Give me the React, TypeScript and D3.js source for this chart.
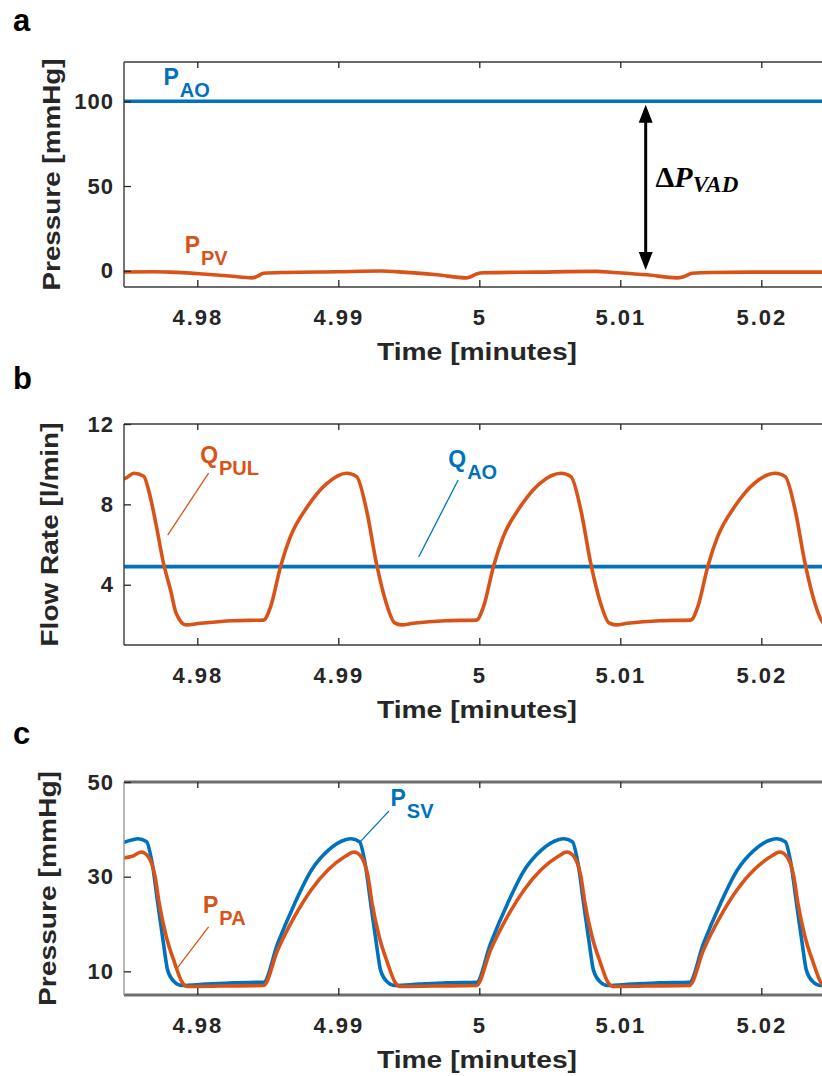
import React from 'react';
import * as d3 from 'd3';

// shared time axis
const timeTicks = [4.98, 4.99, 5.0, 5.01, 5.02];
const timeTickLabels = ['4.98', '4.99', '5', '5.01', '5.02'];

// panel a : pressures [mmHg]
const pAO = [[4.974, 100], [5.026, 100]];
const pPV = [
  [4.974, -0.8], [4.9769, -0.6], [4.9781, -0.8], [4.9804, -1.9], [4.9823, -3.1], [4.9839, -4.2],
  [4.9842, -3.5], [4.9847, -1.5], [4.9863, -1.0], [4.9899, -0.6], [4.993, -0.2], [4.9946, -0.8],
  [4.997, -2.4], [4.9991, -4.2], [4.9993, -3.8], [4.9998, -1.9], [5.0003, -1.2], [5.0041, -0.8],
  [5.0083, -0.4], [5.0095, -1.0], [5.0119, -2.4], [5.014, -4.2], [5.0145, -3.5], [5.0151, -1.5],
  [5.0164, -1.0], [5.0206, -0.8], [5.0258, -0.8],
];
const pressureATicks = [0, 50, 100];

// panel b : flow rates [l/min]
const qAO = [[4.974, 4.9], [5.026, 4.9]];
const qPUL = [
  [4.974, 9.2], [4.9749, 9.3], [4.9755, 9.55], [4.9762, 9.4], [4.9766, 8.55], [4.9771, 6.9],
  [4.9776, 5.07], [4.9781, 3.74], [4.9785, 2.58], [4.9792, 2.0], [4.9802, 2.08], [4.9825, 2.21],
  [4.9847, 2.24], [4.9852, 2.91], [4.9859, 4.9], [4.9866, 6.39], [4.9878, 7.88], [4.9892, 9.05],
  [4.9906, 9.55], [4.9913, 9.38], [4.992, 7.72], [4.9927, 5.07], [4.9934, 3.08], [4.994, 2.1],
  [4.9945, 2.0], [4.9953, 2.08], [4.9976, 2.21], [4.9998, 2.24], [5.0003, 2.91], [5.001, 4.9],
  [5.0017, 6.39], [5.0029, 7.88], [5.0043, 9.05], [5.0058, 9.55], [5.0065, 9.38], [5.0072, 7.72],
  [5.0079, 5.07], [5.0086, 3.08], [5.0092, 2.1], [5.0097, 2.0], [5.0105, 2.08], [5.0128, 2.21],
  [5.015, 2.24], [5.0155, 2.91], [5.0162, 4.9], [5.0169, 6.39], [5.0181, 7.88], [5.0195, 9.05],
  [5.021, 9.55], [5.0217, 9.38], [5.0224, 7.72], [5.0231, 5.07], [5.0238, 3.08], [5.0244, 2.1],
  [5.0249, 2.0], [5.0257, 2.08],
];
const flowTicks = [4, 8, 12];

// panel c : pressures [mmHg]
const pSV = [
  [4.9742, 36.5], [4.9754, 37.8], [4.9758, 38.0], [4.9764, 37.4], [4.9768, 32.8], [4.9772, 24.3],
  [4.9776, 15.9], [4.9779, 10.2], [4.9784, 7.7], [4.9789, 7.0], [4.9806, 7.3], [4.9826, 7.6],
  [4.9847, 7.7], [4.9857, 15.9], [4.9869, 24.3], [4.9881, 31.4], [4.9893, 35.6], [4.9905, 37.8],
  [4.9909, 38.0], [4.9915, 37.4], [4.9919, 32.8], [4.9923, 24.3], [4.9927, 15.9], [4.993, 10.2],
  [4.9935, 7.7], [4.994, 7.0], [4.9957, 7.3], [4.9977, 7.6],
  [4.9998, 7.7], [5.0008, 15.9], [5.002, 24.3], [5.0032, 31.4], [5.0044, 35.6], [5.0056, 37.8],
  [5.006, 38.0], [5.0066, 37.4], [5.007, 32.8], [5.0074, 24.3], [5.0078, 15.9], [5.0081, 10.2],
  [5.0086, 7.7], [5.0091, 7.0], [5.0108, 7.3], [5.0128, 7.6],
  [5.0149, 7.7], [5.0159, 15.9], [5.0171, 24.3], [5.0183, 31.4], [5.0195, 35.6], [5.0207, 37.8],
  [5.0211, 38.0], [5.0217, 37.4], [5.0221, 32.8], [5.0225, 24.3], [5.0229, 15.9], [5.0232, 10.2],
  [5.0237, 7.7], [5.0242, 7.0], [5.0259, 7.3],
];
const pPA = [
  [4.9742, 33.8], [4.9754, 34.3], [4.976, 35.2], [4.9765, 34.3], [4.977, 30.1], [4.9773, 24.3],
  [4.9778, 17.3], [4.9784, 11.7], [4.9789, 7.8], [4.9793, 6.8], [4.9816, 6.9],
  [4.9847, 7.0], [4.9857, 14.5], [4.9869, 21.6], [4.9881, 27.3], [4.9893, 31.5], [4.9905, 34.3],
  [4.9911, 35.2], [4.9916, 34.3], [4.9921, 30.1], [4.9924, 24.3], [4.9929, 17.3], [4.9935, 11.7],
  [4.994, 7.8], [4.9944, 6.8], [4.9967, 6.9],
  [4.9998, 7.0], [5.0008, 14.5], [5.002, 21.6], [5.0032, 27.3], [5.0044, 31.5], [5.0056, 34.3],
  [5.0062, 35.2], [5.0067, 34.3], [5.0072, 30.1], [5.0075, 24.3], [5.008, 17.3], [5.0086, 11.7],
  [5.0091, 7.8], [5.0095, 6.8], [5.0118, 6.9],
  [5.0149, 7.0], [5.0159, 14.5], [5.0171, 21.6], [5.0183, 27.3], [5.0195, 31.5], [5.0207, 34.3],
  [5.0213, 35.2], [5.0218, 34.3], [5.0223, 30.1], [5.0226, 24.3], [5.0231, 17.3], [5.0237, 11.7],
  [5.0242, 7.8], [5.0246, 6.8], [5.0269, 6.9],
];
const pressureCTicks = [10, 30, 50];

const BLUE = '#0072BD';
const ORANGE = '#D95319';
const INK = '#262626';
const SANS = '"Liberation Sans", Arial, sans-serif';
const SERIF = '"Liberation Serif", "Times New Roman", serif';

export default class App extends React.Component {
  node: SVGSVGElement | null = null;

  componentDidMount() {
    this.createChart();
  }

  componentDidUpdate() {
    this.createChart();
  }

  drawPanel(svg, cfg) {
    const x = d3.scaleLinear().domain([4.9748, 5.025]).range([124, 831.8]);
    const y = d3.scaleLinear().domain(cfg.yDomain).range([cfg.bottom, cfg.top]);
    const left = x.range()[0];
    const g = svg.append('g');

    g.append('clipPath').attr('id', 'clip-' + cfg.id)
      .append('rect')
      .attr('x', left)
      .attr('y', cfg.top)
      .attr('width', 900)
      .attr('height', cfg.bottom - cfg.top);

    const line = d3.line()
      .x(d => x(d[0]))
      .y(d => y(d[1]))
      .curve(d3.curveMonotoneX);

    cfg.series.forEach(s => {
      g.append('path')
        .attr('clip-path', `url(#clip-${cfg.id})`)
        .attr('d', line(s.data))
        .attr('fill', 'none')
        .attr('stroke', s.color)
        .attr('stroke-width', 3.6)
        .attr('stroke-linejoin', 'round');
    });

    // box (right edge falls outside the page)
    g.append('line').attr('x1', left).attr('x2', 830).attr('y1', cfg.top).attr('y2', cfg.top)
      .attr('stroke', cfg.hStroke).attr('stroke-width', cfg.hWidth);
    g.append('line').attr('x1', left).attr('x2', 830).attr('y1', cfg.bottom).attr('y2', cfg.bottom)
      .attr('stroke', cfg.hStroke).attr('stroke-width', cfg.hWidth);
    g.append('line').attr('x1', left).attr('x2', left).attr('y1', cfg.top).attr('y2', cfg.bottom)
      .attr('stroke', cfg.vStroke).attr('stroke-width', 1.4);

    const bottomAxis = g.append('g')
      .attr('transform', `translate(0,${cfg.bottom})`)
      .call(d3.axisBottom(x).tickValues(timeTicks).tickSizeInner(-7).tickSizeOuter(0)
        .tickPadding(22).tickFormat((d, i) => timeTickLabels[i]));
    const topAxis = g.append('g')
      .attr('transform', `translate(0,${cfg.top})`)
      .call(d3.axisTop(x).tickValues(timeTicks).tickSizeInner(-6).tickSizeOuter(0).tickFormat(() => ''));
    const leftAxis = g.append('g')
      .attr('transform', `translate(${left},0)`)
      .call(d3.axisLeft(y).tickValues(cfg.yTicks).tickSizeInner(-7).tickSizeOuter(0)
        .tickPadding(10).tickFormat(d3.format('d')));

    [bottomAxis, topAxis, leftAxis].forEach(a => {
      a.select('.domain').remove();
      a.selectAll('line').attr('stroke', INK).attr('stroke-width', 1.3);
      a.selectAll('text')
        .attr('fill', INK)
        .style('font-family', SANS)
        .style('font-weight', 'bold')
        .style('font-size', '22px');
    });
    bottomAxis.selectAll('text').style('letter-spacing', '2px');
    leftAxis.selectAll('text').style('letter-spacing', '1px');

    g.append('text')
      .attr('x', 477)
      .attr('y', cfg.bottom + 73)
      .attr('text-anchor', 'middle')
      .attr('textLength', 200)
      .attr('lengthAdjust', 'spacingAndGlyphs')
      .attr('fill', INK)
      .style('font-family', SANS)
      .style('font-weight', 'bold')
      .style('font-size', '23px')
      .text('Time [minutes]');

    g.append('text')
      .attr('transform', `translate(${cfg.yTitleX},${(cfg.top + cfg.bottom) / 2}) rotate(-90)`)
      .attr('text-anchor', 'middle')
      .attr('textLength', cfg.yTitleLength)
      .attr('lengthAdjust', 'spacingAndGlyphs')
      .attr('fill', INK)
      .style('font-family', SANS)
      .style('font-weight', 'bold')
      .style('font-size', '23px')
      .text(cfg.yTitle);

    g.append('text')
      .attr('x', 13)
      .attr('y', cfg.letterY)
      .attr('fill', '#000')
      .style('font-family', SANS)
      .style('font-weight', 'bold')
      .style('font-size', '31px')
      .text(cfg.letter);

    cfg.labels.forEach(l => {
      const t = g.append('text')
        .attr('x', x(l.t))
        .attr('y', y(l.v))
        .attr('fill', l.color)
        .style('font-family', SANS)
        .style('font-weight', 'bold')
        .style('font-size', '23px');
      t.append('tspan').text(l.main);
      t.append('tspan').attr('dx', 1).attr('dy', 12).style('font-size', '20px').text(l.sub);
      if (l.lead) {
        g.append('line')
          .attr('x1', x(l.lead[0])).attr('y1', y(l.lead[1]))
          .attr('x2', x(l.lead[2])).attr('y2', y(l.lead[3]))
          .attr('stroke', l.color)
          .attr('stroke-width', 1.3);
      }
    });

    return { g, x, y };
  }

  createChart() {
    const svg = d3.select(this.node);
    svg.selectAll('*').remove();

    const a = this.drawPanel(svg, {
      id: 'a', letter: 'a', letterY: 31,
      top: 62, bottom: 287, yDomain: [-9.6, 123.2], yTicks: pressureATicks,
      yTitle: 'Pressure [mmHg]', yTitleX: 60, yTitleLength: 232,
      hStroke: '#3a3a3a', hWidth: 1.4, vStroke: '#3a3a3a',
      series: [{ data: pPV, color: ORANGE }, { data: pAO, color: BLUE }],
      labels: [
        { t: 4.9776, v: 109.6, main: 'P', sub: 'AO', color: BLUE },
        { t: 4.9791, v: 10.5, main: 'P', sub: 'PV', color: ORANGE },
      ],
    });

    // pressure difference arrow
    const ax = a.x(5.0118);
    const yTop = a.y(98);
    const yBot = a.y(0.5);
    a.g.append('line')
      .attr('x1', ax).attr('x2', ax)
      .attr('y1', yTop + 14).attr('y2', yBot - 14)
      .attr('stroke', '#000').attr('stroke-width', 3);
    a.g.append('path')
      .attr('d', `M${ax},${yTop}L${ax - 7},${yTop + 18}L${ax + 7},${yTop + 18}Z`)
      .attr('fill', '#000');
    a.g.append('path')
      .attr('d', `M${ax},${yBot}L${ax - 7},${yBot - 18}L${ax + 7},${yBot - 18}Z`)
      .attr('fill', '#000');
    const dp = a.g.append('text')
      .attr('x', a.x(5.0125))
      .attr('y', a.y(49.6))
      .attr('fill', '#000')
      .style('font-family', SERIF)
      .style('font-weight', 'bold')
      .style('font-size', '30px');
    dp.append('tspan').text('Δ');
    dp.append('tspan').style('font-style', 'italic').text('P');
    dp.append('tspan').attr('dy', 5).style('font-style', 'italic').style('font-size', '23px').text('VAD');

    this.drawPanel(svg, {
      id: 'b', letter: 'b', letterY: 389,
      top: 424, bottom: 645, yDomain: [1, 12], yTicks: flowTicks,
      yTitle: 'Flow Rate [l/min]', yTitleX: 58, yTitleLength: 224,
      hStroke: '#3a3a3a', hWidth: 1.4, vStroke: '#3a3a3a',
      series: [{ data: qAO, color: BLUE }, { data: qPUL, color: ORANGE }],
      labels: [
        { t: 4.9802, v: 10.06, main: 'Q', sub: 'PUL', color: ORANGE, lead: [4.9808, 9.56, 4.9779, 6.47] },
        { t: 4.9978, v: 9.86, main: 'Q', sub: 'AO', color: BLUE, lead: [4.9985, 9.21, 4.9957, 5.38] },
      ],
    });

    this.drawPanel(svg, {
      id: 'c', letter: 'c', letterY: 744,
      top: 782, bottom: 995, yDomain: [5, 50], yTicks: pressureCTicks,
      yTitle: 'Pressure [mmHg]', yTitleX: 56, yTitleLength: 235,
      hStroke: '#6e6e6e', hWidth: 3, vStroke: '#9a9a9a',
      series: [{ data: pSV, color: BLUE }, { data: pPA, color: ORANGE }],
      labels: [
        { t: 4.9937, v: 44.9, main: 'P', sub: 'SV', color: BLUE, lead: [4.9936, 43.9, 4.9916, 37.5] },
        { t: 4.9804, v: 22.3, main: 'P', sub: 'PA', color: ORANGE, lead: [4.9808, 19.4, 4.9786, 10.8] },
      ],
    });
  }

  render() {
    return (
      <svg
        ref={node => { this.node = node; }}
        width={822}
        height={1076}
        style={{ position: 'absolute', left: 0, top: 0, background: '#fff' }}
      />
    );
  }
}
